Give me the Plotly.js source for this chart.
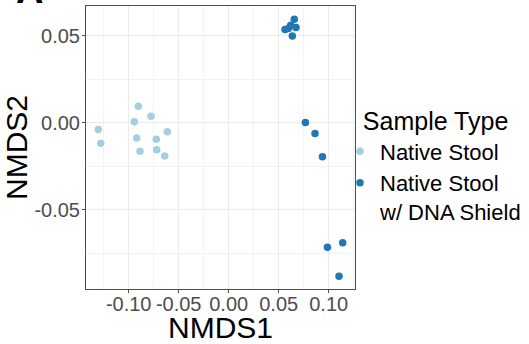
<!DOCTYPE html>
<html>
<head>
<meta charset="utf-8">
<script src="https://cdn.plot.ly/plotly-3.0.1.min.js"></script>
<style>html,body{margin:0;padding:0;background:#fff;}#chart{width:529px;height:344px;}</style>
</head>
<body>
<div id="chart"></div>
<script>
// Native Stool
const nativeX = [-0.1304, -0.1280, -0.0944, -0.0904, -0.0920, -0.0887, -0.0777, -0.0724, -0.0720, -0.0640, -0.0614];
const nativeY = [-0.0038, -0.0117, 0.0006, 0.0096, -0.0088, -0.0164, 0.0038, -0.0095, -0.0155, -0.0191, -0.0052];
// Native Stool w/ DNA Shield
const shieldX = [0.0656, 0.0563, 0.0620, 0.0673, 0.0636, 0.0596, 0.0767, 0.0863, 0.0937, 0.0987, 0.1140, 0.1103];
const shieldY = [0.0596, 0.0537, 0.0561, 0.0548, 0.0500, 0.0543, 0.0002, -0.0061, -0.0195, -0.0716, -0.0690, -0.0883];

const tickVals = [-0.10, -0.05, 0.00, 0.05, 0.10];
const xTickText = ["-0.10", "-0.05", "0.00", "0.05", "0.10"];
const yTickVals = [-0.05, 0.00, 0.05];
const yTickText = ["-0.05", "0.00", "0.05"];

const FONT = "Liberation Sans, Arial, sans-serif";

const traces = [
  {x: nativeX, y: nativeY, mode: 'markers', type: 'scatter', name: 'Native Stool',
   marker: {color: '#a6cee3', size: 7.5}},
  {x: shieldX, y: shieldY, mode: 'markers', type: 'scatter', name: 'Native Stool<br>w/ DNA Shield',
   marker: {color: '#1f78b4', size: 7.5}}
];

const axisCommon = {
  showline: true, mirror: true, linecolor: '#4d4d4d', linewidth: 1,
  gridcolor: '#ebebeb', gridwidth: 1, zeroline: false,
  ticks: 'outside', ticklen: 3, tickcolor: '#4d4d4d', tickwidth: 1,
  tickfont: {family: FONT, size: 20, color: '#4d4d4d'},
  automargin: false
};

const layout = {
  width: 529, height: 344,
  margin: {l: 86, r: 174, t: 6, b: 55, autoexpand: false},
  paper_bgcolor: '#fff', plot_bgcolor: '#fff',
  font: {family: FONT, color: '#000'},
  xaxis: Object.assign({}, axisCommon, {
    range: [-0.1427, 0.1263], tickvals: tickVals, ticktext: xTickText, tickangle: 0,
    ticklabelstandoff: -6,
    minor: {tickvals: [-0.125, -0.075, -0.025, 0.025, 0.075, 0.125], showgrid: true, gridcolor: '#f3f3f3', ticks: ''},
    title: {text: 'NMDS1', font: {family: FONT, size: 30, color: '#000'}}
  }),
  yaxis: Object.assign({}, axisCommon, {
    range: [-0.0956, 0.0672], tickvals: yTickVals, ticktext: yTickText,
    ticklabelstandoff: -2,
    minor: {tickvals: [-0.075, -0.025, 0.025], showgrid: true, gridcolor: '#f3f3f3', ticks: ''},
    title: {text: 'NMDS2', font: {family: FONT, size: 30, color: '#000'}}
  }),
  showlegend: true,
  legend: {
    x: -0.055, xref: 'paper', xanchor: 'left', y: 0.675, yanchor: 'top',
    bgcolor: 'rgba(0,0,0,0)', valign: 'top',
    title: {text: '\u00a0\u00a0\u00a0Sample Type', font: {family: FONT, size: 25, color: '#000'}},
    font: {family: FONT, size: 22, color: '#000'},
    itemwidth: 30, tracegroupgap: 0
  },
  annotations: [{
    text: '<b>A</b>', xref: 'paper', yref: 'paper', x: -0.268, y: 0.975,
    xanchor: 'left', yanchor: 'bottom', showarrow: false,
    font: {family: FONT, size: 38, color: '#000'}
  }]
};
layout.legend.x = (340 - 86) / 269;

Plotly.newPlot('chart', traces, layout, {displayModeBar: false, staticPlot: true});
</script>
</body>
</html>
